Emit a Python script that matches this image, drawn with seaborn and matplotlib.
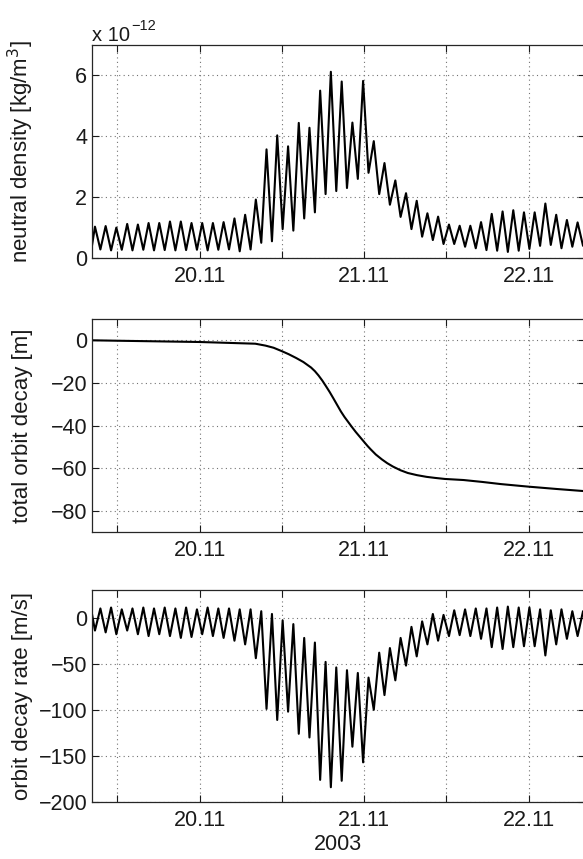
import matplotlib
matplotlib.use("Agg")
import matplotlib.pyplot as plt
import seaborn as sns
import pandas as pd

# ---------------- data ----------------
# time in days of November 2003; start point, then alternating density-peak / density-trough times
orbit_time = [19.342,
    19.363, 19.396, 19.428, 19.461, 19.493, 19.526, 19.559, 19.591, 19.624, 19.657,
    19.689, 19.722, 19.754, 19.787, 19.819, 19.852, 19.885, 19.917, 19.950, 19.983,
    20.015, 20.048, 20.080, 20.113, 20.145, 20.178, 20.211, 20.243, 20.276, 20.309,
    20.341, 20.374, 20.406, 20.439, 20.471, 20.504, 20.537, 20.569, 20.602, 20.635,
    20.667, 20.700, 20.732, 20.765, 20.797, 20.830, 20.863, 20.895, 20.928, 20.961,
    20.993, 21.026, 21.058, 21.091, 21.123, 21.156, 21.189, 21.221, 21.254, 21.287,
    21.319, 21.352, 21.384, 21.417, 21.449, 21.482, 21.515, 21.547, 21.580, 21.613,
    21.645, 21.678, 21.710, 21.743, 21.775, 21.808, 21.841, 21.873, 21.906, 21.939,
    21.971, 22.004, 22.036, 22.069, 22.101, 22.134, 22.167, 22.199, 22.232, 22.265,
    22.297, 22.330]

# neutral density [1e-12 kg/m^3]
density = [0.30,
    1.03, 0.28, 1.05, 0.25, 1.00, 0.27, 1.12, 0.25, 1.10, 0.27,
    1.15, 0.25, 1.15, 0.26, 1.20, 0.25, 1.20, 0.26, 1.15, 0.27,
    1.15, 0.25, 1.15, 0.27, 1.18, 0.28, 1.30, 0.22, 1.42, 0.28,
    1.92, 0.50, 3.57, 0.55, 4.03, 0.95, 3.67, 0.90, 4.44, 1.30,
    4.28, 1.50, 5.50, 2.10, 6.12, 2.20, 5.80, 2.30, 4.45, 2.60,
    5.82, 2.80, 3.84, 2.10, 3.12, 1.75, 2.55, 1.35, 2.13, 0.95,
    1.88, 0.70, 1.47, 0.59, 1.36, 0.46, 1.10, 0.46, 1.06, 0.37,
    1.06, 0.32, 1.18, 0.26, 1.45, 0.24, 1.53, 0.20, 1.57, 0.24,
    1.50, 0.30, 1.50, 0.40, 1.79, 0.43, 1.42, 0.32, 1.25, 0.37,
    1.17, 0.40]

# orbit decay rate [m/s]
decay_rate = [7,
    -14, 10, -16, 11, -18, 9, -14, 10, -18, 11,
    -20, 10, -18, 11, -20, 10, -22, 11, -21, 9,
    -18, 11, -20, 10, -22, 10, -25, 9, -29, 9,
    -44, 7, -99, 4, -111, -3, -102, -7, -126, -22,
    -130, -27, -176, -48, -184, -54, -177, -57, -140, -60,
    -157, -65, -100, -38, -84, -33, -68, -22, -52, -10,
    -42, -4, -29, 4, -25, 3, -20, 8, -19, 9,
    -20, 10, -23, 10, -32, 11, -34, 12, -32, 11,
    -31, 11, -31, 9, -41, 8, -29, 9, -23, 7,
    -20, 7]

# total orbit decay [m]
decay_time = [19.342, 19.497, 20.000, 20.338, 20.400, 20.449, 20.496, 20.540, 20.586,
              20.630, 20.677, 20.700, 20.722, 20.745, 20.767, 20.790, 20.812, 20.835,
              20.858, 20.880, 20.903, 20.925, 20.948, 20.973, 20.998, 21.020, 21.038,
              21.070, 21.107, 21.140, 21.175, 21.220, 21.265, 21.320, 21.378, 21.430,
              21.491, 21.604, 21.718, 21.830, 21.997, 22.169, 22.337]
total_decay = [0.0, -0.2, -0.8, -1.6, -2.5, -3.5, -5.0, -6.5, -8.3,
               -10.2, -12.8, -14.5, -16.5, -18.9, -21.5, -24.3, -27.2, -30.3,
               -33.4, -36.0, -38.4, -40.7, -43.0, -45.3, -47.6, -49.6, -51.1,
               -53.6, -55.9, -57.7, -59.3, -61.0, -62.3, -63.3, -64.1, -64.6,
               -65.1, -65.6, -66.5, -67.5, -68.7, -69.8, -70.8]

xtick_pos = [19.5, 20.0, 20.5, 21.0, 21.5, 22.0]
xtick_labels = ["", "20.11", "", "21.11", "", "22.11"]
xlim = (19.342, 22.342)

# ---------------- styling ----------------
sns.set_style("ticks")
plt.rcParams["font.family"] = ["Liberation Sans", "DejaVu Sans"]
plt.rcParams["axes.unicode_minus"] = True

W, H = 583, 859
fig = plt.figure(figsize=(W / 100, H / 100), dpi=100)


def box(top, bottom, left=91.5, right=585):
    return [left / W, 1 - bottom / H, (right - left) / W, (bottom - top) / H]


ax1 = fig.add_axes(box(45, 258))
ax2 = fig.add_axes(box(319, 532))
ax3 = fig.add_axes(box(590, 802))

df_orbit = pd.DataFrame({"t": orbit_time, "density": density, "rate": decay_rate})
df_decay = pd.DataFrame({"t": decay_time, "decay": total_decay})

lw = 1.5
sns.lineplot(data=df_orbit, x="t", y="density", ax=ax1, color="black", lw=lw)
sns.lineplot(data=df_decay, x="t", y="decay", ax=ax2, color="black", lw=lw)
sns.lineplot(data=df_orbit, x="t", y="rate", ax=ax3, color="black", lw=lw)

ax1.set_ylim(0, 7)
ax1.set_yticks([0, 2, 4, 6])
ax2.set_ylim(-90, 10)
ax2.set_yticks([-80, -60, -40, -20, 0])
ax3.set_ylim(-200, 30)
ax3.set_yticks([-200, -150, -100, -50, 0])

ylabels = ["neutral density [kg/m$^3$]", "total orbit decay [m]", "orbit decay rate [m/s]"]
label_x = [-0.113, -0.119, -0.119]

for ax, lab, lx in zip([ax1, ax2, ax3], ylabels, label_x):
    ax.set_xlim(*xlim)
    ax.set_xticks(xtick_pos)
    ax.set_xticklabels(xtick_labels)
    ax.tick_params(direction="in", top=True, right=True, length=5, width=0.8,
                   labelsize=15.5, colors="0.1")
    ax.tick_params(axis="x", pad=6)
    ax.tick_params(axis="y", pad=3)
    ax.set_axisbelow(True)
    ax.grid(True, linestyle=(0, (1, 3)), color="0.45", linewidth=0.8)
    for sp in ax.spines.values():
        sp.set_visible(True)
        sp.set_linewidth(0.9)
        sp.set_color("0.15")
    ax.set_ylabel(lab, fontsize=16, color="0.1")
    ax.yaxis.set_label_coords(lx, 0.5)
    ax.set_xlabel("")

ax3.set_xlabel("2003", fontsize=15.5, color="0.1", labelpad=2)

fig.text(92 / W, 1 - 41 / H, "x 10", fontsize=14.5, color="0.1", ha="left", va="baseline")
fig.text(131 / W, 1 - 30 / H, "\u221212", fontsize=10.5, color="0.1", ha="left", va="baseline")

fig.savefig("out.png", dpi=100)
